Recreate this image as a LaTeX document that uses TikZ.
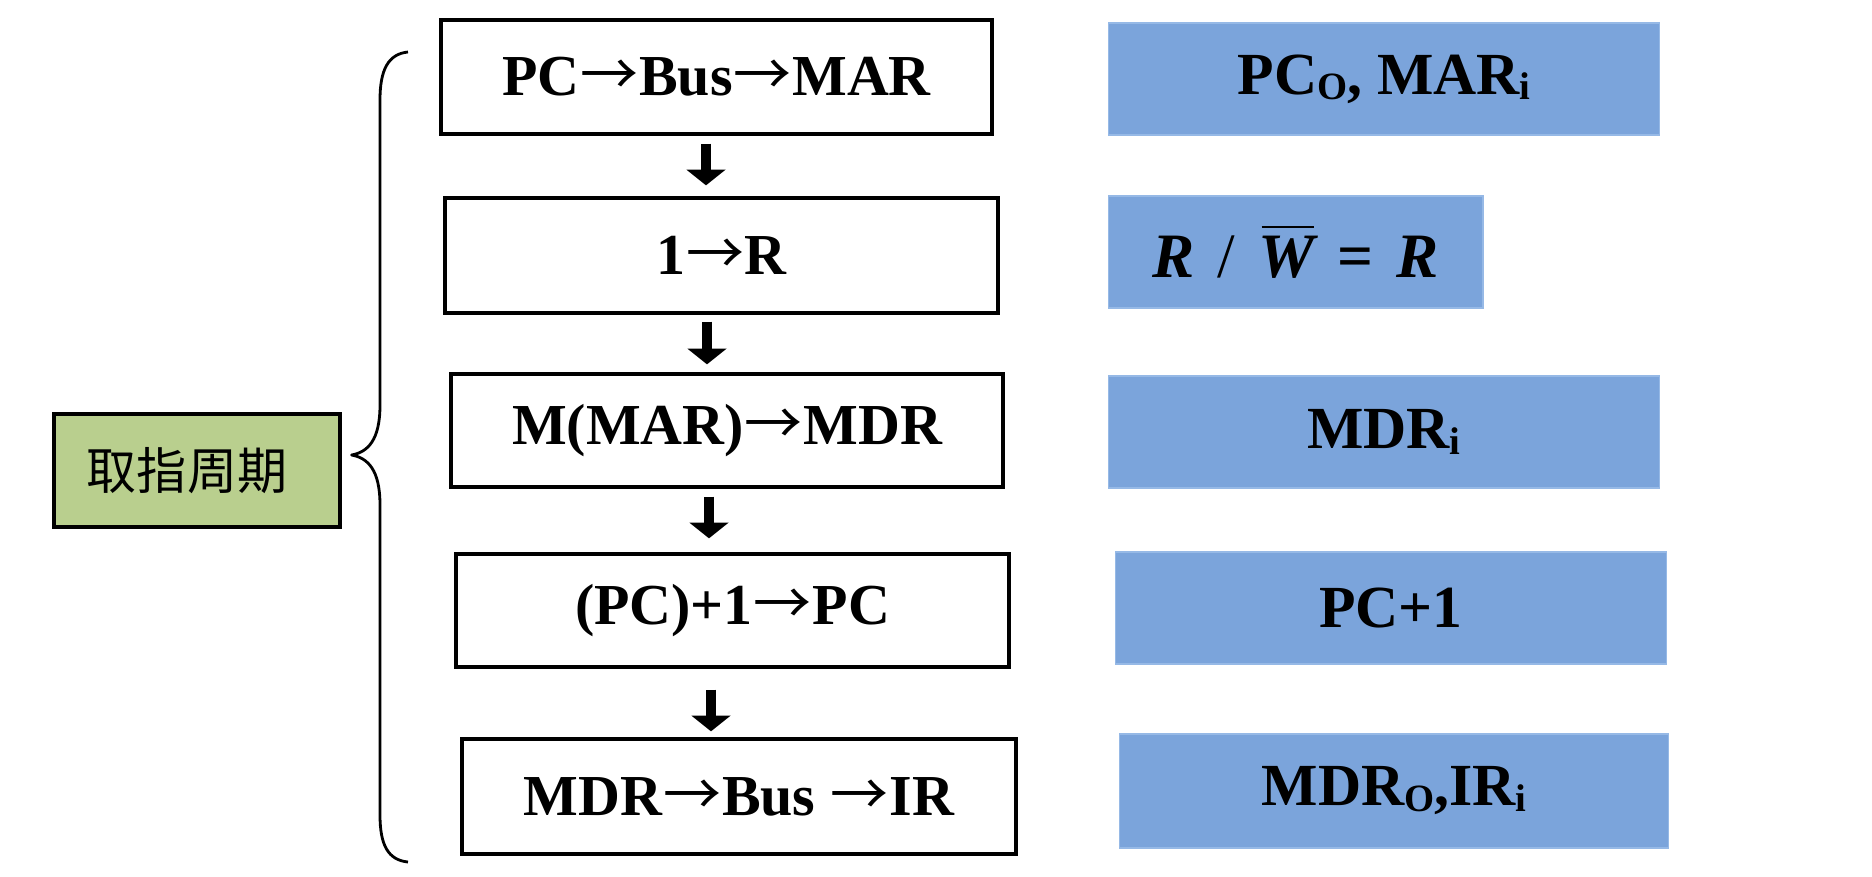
\documentclass[tikz,border=0pt]{standalone}
\usepackage{fontspec}
\setmainfont{Liberation Serif}
\newfontfamily\cjk{Noto Sans CJK SC}
\usetikzlibrary{arrows.meta,calc}
\definecolor{sigblue}{RGB}{123,164,219}
\definecolor{sigedge}{RGB}{150,185,230}
\definecolor{cyclegreen}{RGB}{185,207,142}

% long thin transfer arrow used inside the step texts
\newcommand\xfer{{\cjk\mdseries\kern0.5pt→\kern0.5pt}}
% bold subscript used for the control signals
\newcommand\sig[1]{\raisebox{-3pt}{\fontsize{22}{22}\selectfont #1}}
% bar drawn over a symbol
\newcommand\barover[1]{\setbox0\hbox{#1}\rlap{\hspace{2pt}\raisebox{1.2\ht0}{\rule{\dimexpr\wd0-2pt\relax}{1.1pt}}}\box0}

\begin{document}
\begin{tikzpicture}[x=0.02cm,y=-0.02cm,
  flowbox/.style={draw=black, line width=1.9pt, inner sep=0pt,
    font=\fontsize{33}{33}\selectfont\bfseries},
  sigbox/.style={fill=sigblue, draw=sigedge, line width=0.6pt, inner sep=0pt,
    font=\fontsize{34}{34}\selectfont\bfseries},
  stagebox/.style={draw=black, fill=cyclegreen, line width=1.9pt, inner sep=0pt,
    font=\fontsize{28.5}{28.5}\selectfont\cjk},
  flowarrow/.style={line width=5.6pt, -{Triangle[width=22pt,length=9pt]}},
  bracepath/.style={line width=1.6pt, line join=round}]

\useasboundingbox (0,0) rectangle (1872,876);

% micro-operation steps
\node[flowbox, minimum width=11.02cm, minimum height=2.28cm] (b1) at (716.5,77) {PC\xfer Bus\xfer MAR};
\node[flowbox, minimum width=11.06cm, minimum height=2.30cm] (b2) at (721.5,255.5) {1\xfer R};
\node[flowbox, minimum width=11.04cm, minimum height=2.26cm] (b3) at (727,430.5) {M(MAR)\xfer MDR};
\node[flowbox, minimum width=11.06cm, minimum height=2.26cm] (b4) at (732.5,610.5) {(PC)+1\xfer PC};
\node[flowbox, minimum width=11.08cm, minimum height=2.30cm] (b5) at (739,796.5) {MDR\xfer Bus \xfer IR};

% control signals
\node[sigbox, minimum width=11.04cm, minimum height=2.24cm] (s1) at (1384,79) {PC\sig{O}, MAR\sig{i}};
\node[sigbox, minimum width=7.50cm, minimum height=2.24cm, font=\fontsize{36}{36}\selectfont\bfseries\itshape] (s2) at (1295.5,252)
  {R\hspace{13pt}{\upshape\mdseries /}\hspace{13pt}\barover{W}\hspace{13pt}{\upshape=}\hspace{13pt}R};
\node[sigbox, minimum width=11.04cm, minimum height=2.24cm] (s3) at (1384,432) {MDR\sig{i}};
\node[sigbox, minimum width=11.04cm, minimum height=2.24cm] (s4) at (1391,608) {PC+1};
\node[sigbox, minimum width=11.00cm, minimum height=2.28cm] (s5) at (1394,791) {MDR\sig{O},IR\sig{i}};

% cycle label
\node[stagebox, minimum width=5.72cm, minimum height=2.26cm] (cyc) at (197,470.5) {取指周期\kern0.4cm};

% step-to-step arrows
\draw[flowarrow] ($(b1.south)+(-10.5,8)$) -- ($(b2.north)+(-15.5,-11)$);
\draw[flowarrow] ($(b2.south)+(-14.5,7)$) -- ($(b3.north)+(-20,-8)$);
\draw[flowarrow] ($(b3.south)+(-18,8)$) -- ($(b4.north)+(-23.5,-14)$);
\draw[flowarrow] ($(b4.south)+(-21.5,21)$) -- ($(b5.north)+(-28,-6)$);

% brace grouping the steps
\coordinate (tip) at ($(cyc.east)+(10,-15.5)$);
\draw[bracepath] (408,52) .. controls (388,54) and (380,70) .. (380,100)
  -- (380,405) .. controls (380,440) and (368,452) .. (tip)
  .. controls (368,458) and (380,470) .. (380,505)
  -- (380,815) .. controls (380,845) and (388,860) .. (408,862);
\end{tikzpicture}
\end{document}
